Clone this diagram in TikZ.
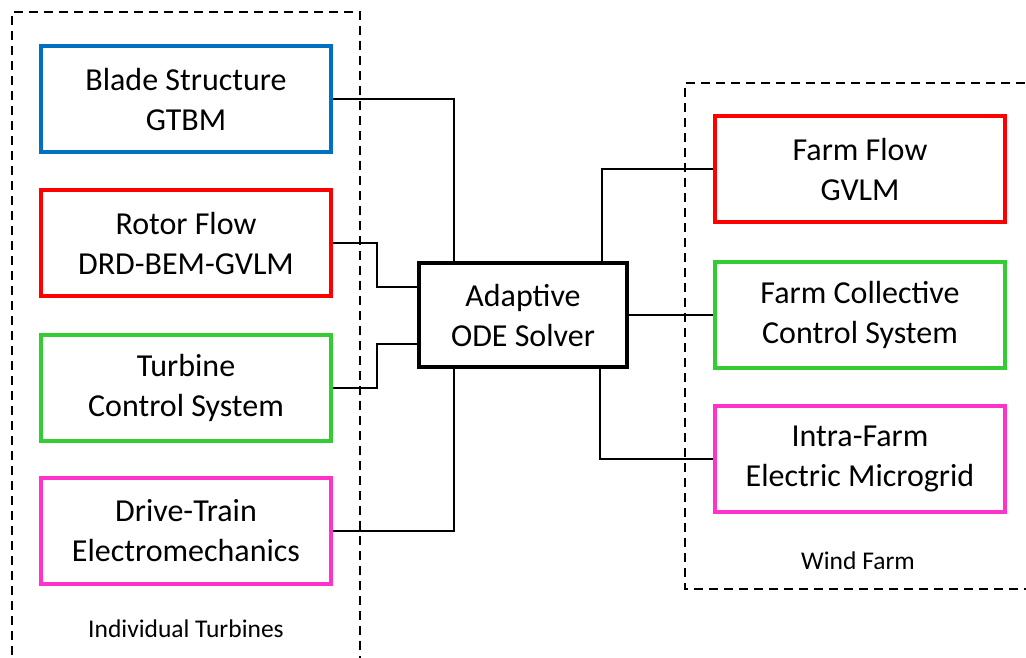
\documentclass[tikz,border=0pt]{standalone}
\usepackage{fontspec}
\setmainfont{Carlito}
\usetikzlibrary{calc}
\definecolor{cblue}{RGB}{0,112,192}
\definecolor{cred}{RGB}{255,0,0}
\definecolor{cgreen}{RGB}{51,204,51}
\definecolor{cpink}{RGB}{255,51,204}
\tikzset{
  module/.style={draw, line width=4.2pt, minimum width=290pt, minimum height=106pt, align=center, inner sep=0pt,
    font=\fontsize{32}{40}\selectfont},
  solver/.style={draw=black, line width=4.8pt, minimum width=208pt, minimum height=104pt, align=center, inner sep=0pt,
    font=\fontsize{32}{40}\selectfont},
  link/.style={line width=2.4pt, black},
  group/.style={line width=2.6pt, dash pattern=on 9pt off 6pt},
  grouplabel/.style={font=\fontsize{25.5}{30}\selectfont, inner sep=0pt}
}
\begin{document}
\begin{tikzpicture}[x=1pt,y=-1pt]
\useasboundingbox (0,0) rectangle (1026,657);
\clip (0,0) rectangle (1026,657);
% groups
\draw[group] (12,700) -- (12,12) -- (360,12) -- (360,700);
\draw[group] (1040,83) -- (685,83) -- (685,589) -- (1040,589);
\node[grouplabel] (lt) at (186,629) {Individual Turbines};
\node[grouplabel] (lw) at (858,561) {Wind Farm};
% modules
\node[module, draw=cblue] (blade) at (186,99) {Blade Structure\\GTBM};
\node[module, draw=cred] (rotor) at (186,243) {Rotor Flow\\DRD-BEM-GVLM};
\node[module, draw=cgreen] (turb) at (186,388) {Turbine\\Control System};
\node[module, draw=cpink] (drive) at (186,531) {Drive-Train\\Electromechanics};
\node[solver] (ode) at (523,315) {Adaptive\\ODE Solver};
\node[module, draw=cred] (flow) at (860,169) {Farm Flow\\GVLM};
\node[module, draw=cgreen] (coll) at (860,315) {Farm Collective\\Control System};
\node[module, draw=cpink] (intra) at (860,459) {Intra-Farm\\Electric Microgrid};
% junction columns
\coordinate (c1) at (454,0);
\coordinate (c2) at (377,0);
\coordinate (c3) at (602,0);
\coordinate (c4) at (600,0);
\coordinate (o1) at ($(ode.west)+(0,-28)$);
\coordinate (o2) at ($(ode.west)+(0,29)$);
% connectors
\draw[link] (blade.east) -| (c1 |- ode.north);
\draw[link] (rotor.east) -| (c2 |- o1) -- (o1);
\draw[link] (turb.east) -| (c2 |- o2) -- (o2);
\draw[link] (drive.east) -| (c1 |- ode.south);
\draw[link] (c3 |- ode.north) |- (flow.west);
\draw[link] (ode.east) -- (coll.west);
\draw[link] (c4 |- ode.south) |- (intra.west);
\end{tikzpicture}
\end{document}
